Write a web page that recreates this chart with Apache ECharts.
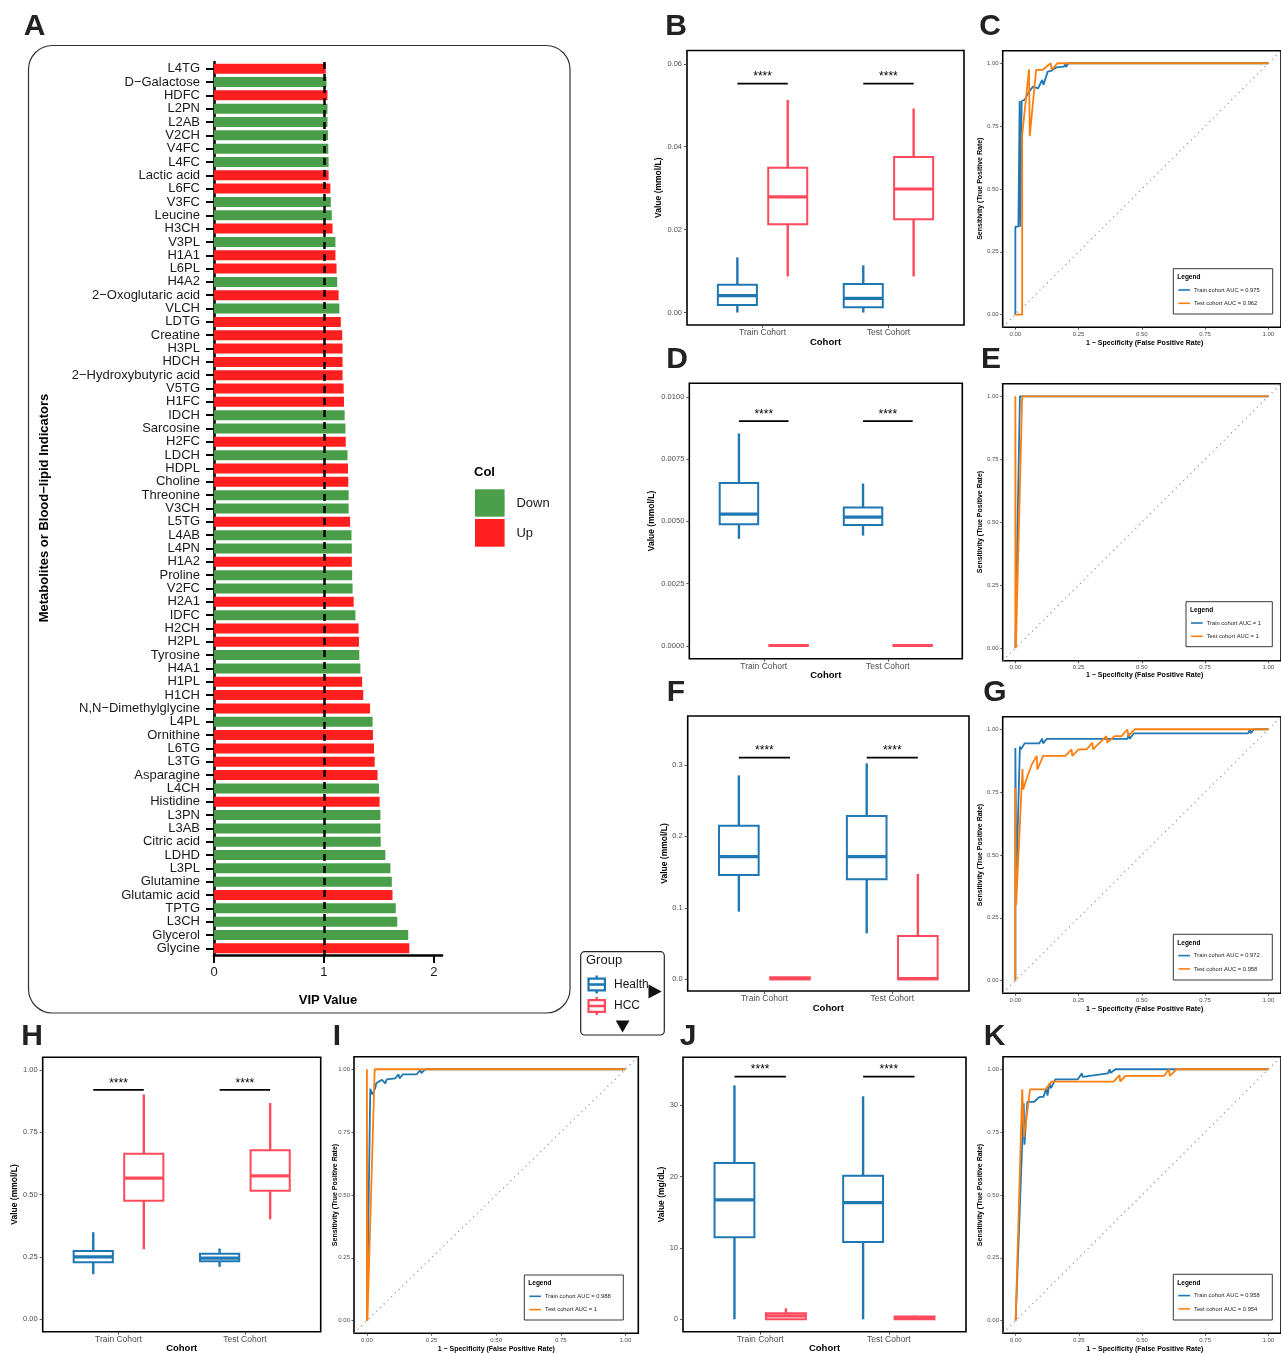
<!DOCTYPE html>
<html><head><meta charset="utf-8">
<script src="https://cdn.jsdelivr.net/npm/echarts@6/dist/echarts.min.js"></script>
<style>html,body{margin:0;padding:0;background:#fff}#c{width:1281px;height:1353px}</style>
</head><body><div id="c"></div>
<script>
// ---------------- DATA ----------------
const vipNames = ['L4TG','D−Galactose','HDFC','L2PN','L2AB','V2CH','V4FC','L4FC','Lactic acid','L6FC','V3FC','Leucine','H3CH','V3PL','H1A1','L6PL','H4A2','2−Oxoglutaric acid','VLCH','LDTG','Creatine','H3PL','HDCH','2−Hydroxybutyric acid','V5TG','H1FC','IDCH','Sarcosine','H2FC','LDCH','HDPL','Choline','Threonine','V3CH','L5TG','L4AB','L4PN','H1A2','Proline','V2FC','H2A1','IDFC','H2CH','H2PL','Tyrosine','H4A1','H1PL','H1CH','N,N−Dimethylglycine','L4PL','Ornithine','L6TG','L3TG','Asparagine','L4CH','Histidine','L3PN','L3AB','Citric acid','LDHD','L3PL','Glutamine','Glutamic acid','TPTG','L3CH','Glycerol','Glycine'];
const vipValues = [1.016,1.023,1.032,1.032,1.032,1.036,1.039,1.042,1.042,1.058,1.062,1.071,1.078,1.104,1.104,1.114,1.12,1.133,1.14,1.153,1.166,1.169,1.169,1.169,1.179,1.182,1.188,1.195,1.198,1.214,1.218,1.221,1.224,1.224,1.237,1.25,1.253,1.253,1.256,1.26,1.27,1.286,1.315,1.318,1.321,1.331,1.347,1.357,1.419,1.442,1.445,1.455,1.461,1.487,1.5,1.506,1.513,1.513,1.516,1.558,1.604,1.617,1.623,1.653,1.666,1.766,1.776];
const vipDirection = ['Up','Down','Up','Down','Down','Down','Down','Down','Up','Up','Down','Down','Up','Down','Up','Up','Down','Up','Down','Up','Up','Up','Up','Up','Up','Up','Down','Down','Up','Down','Up','Up','Down','Down','Up','Down','Down','Up','Down','Down','Up','Down','Up','Up','Down','Down','Up','Up','Up','Down','Up','Up','Up','Up','Down','Up','Down','Down','Down','Down','Down','Down','Up','Down','Down','Down','Up'];
const vipTicks = [0,1,2];
const vipThreshold = 1;

const cohorts = ['Train Cohort','Test Cohort'];
const groups = ['Health','HCC'];

// boxplot stats per cohort: [lower whisker, Q1, median, Q3, upper whisker]
const boxB_health = [[0,0.0018,0.0041,0.0067,0.0133],[0,0.0013,0.0034,0.0069,0.0114]];
const boxB_hcc    = [[0.0087,0.0213,0.0279,0.0349,0.0513],[0.0087,0.0225,0.0298,0.0375,0.0492]];
const sigB = 0.0552;
const ticksB = [0,0.02,0.04,0.06];

const boxD_health = [[0.0043,0.00488,0.00529,0.00654,0.00853],[0.00443,0.00485,0.00517,0.00556,0.00652]];
const boxD_hcc    = [[0,0,0.00002,0.00004,0.00004],[0,0,0.00002,0.00004,0.00004]];
const sigD = 0.00902;
const ticksD = [0,0.0025,0.005,0.0075,0.01];

const boxF_health = [[0.0947,0.146,0.1717,0.215,0.2855],[0.0644,0.14,0.1717,0.2286,0.3023]];
const boxF_hcc    = [[0,0,0.001,0.003,0.003],[0,0,0.001,0.0607,0.1474]];
const sigF = 0.3103;
const ticksF = [0,0.1,0.2,0.3];

const boxH_health = [[0.1805,0.228,0.25,0.274,0.349],[0.21,0.232,0.245,0.262,0.2834]];
const boxH_hcc    = [[0.2807,0.4746,0.5655,0.663,0.901],[0.401,0.5147,0.5749,0.6778,0.8663]];
const sigH = 0.9198;
const ticksH = [0,0.25,0.5,0.75,1];

const boxJ_health = [[0,11.5,16.73,21.92,32.8],[0,10.84,16.36,20.14,31.26]];
const boxJ_hcc    = [[0,0,0.47,0.84,1.54],[0,0,0.2,0.4,0.56]];
const sigJ = 34.02;
const ticksJ = [0,10,20,30];

const rocTicks = [0,0.25,0.5,0.75,1];
const rocC_train = [[0,0],[0,0.35],[0.012,0.35],[0.017,0.85],[0.02,0.35],[0.025,0.85],[0.037,0.855],[0.054,0.887],[0.07,0.907],[0.09,0.9],[0.106,0.934],[0.111,0.914],[0.128,0.967],[0.144,0.971],[0.162,0.984],[0.192,0.987],[0.198,0.997],[0.2,0.985],[0.21,1],[1,1]];
const rocC_test  = [[0,0],[0.027,0],[0.027,0.715],[0.054,0.976],[0.057,0.71],[0.082,0.974],[0.108,0.974],[0.124,0.987],[0.14,1],[0.144,0.974],[0.166,1],[1,1]];
const rocE_train = [[0,0],[0.018,1],[1,1]];
const rocE_test  = [[0,0],[0,1],[0.002,0],[0.027,1],[1,1]];
const rocG_train = [[0,0],[0,0.925],[0.004,0.4],[0.018,0.931],[0.022,0.92],[0.037,0.944],[0.095,0.944],[0.106,0.962],[0.11,0.944],[0.124,0.962],[0.443,0.962],[0.448,0.984],[0.452,0.962],[0.469,0.984],[0.92,0.984],[0.927,1],[0.931,0.984],[0.943,1],[1,1]];
const rocG_test  = [[0,0],[0,0.766],[0.003,0.3],[0.028,0.842],[0.031,0.76],[0.05,0.82],[0.065,0.86],[0.085,0.894],[0.087,0.84],[0.11,0.894],[0.198,0.894],[0.222,0.92],[0.225,0.894],[0.25,0.92],[0.282,0.92],[0.304,0.947],[0.307,0.92],[0.36,0.973],[0.363,0.947],[0.392,0.973],[0.42,0.973],[0.443,1],[0.446,0.973],[0.472,1],[1,1]];
const rocI_train = [[0,0],[0.013,0.922],[0.02,0.9],[0.032,0.924],[0.036,0.944],[0.058,0.958],[0.071,0.944],[0.077,0.96],[0.11,0.964],[0.122,0.98],[0.126,0.964],[0.139,0.98],[0.193,0.98],[0.206,0.997],[0.211,0.985],[0.225,1],[1,1]];
const rocI_test  = [[0,0],[0,1],[0.002,0],[0.03,1],[1,1]];
const rocK_train = [[0,0],[0.032,0.865],[0.035,0.7],[0.046,0.87],[0.072,0.87],[0.095,0.89],[0.11,0.89],[0.122,0.925],[0.126,0.895],[0.134,0.944],[0.14,0.925],[0.157,0.96],[0.246,0.96],[0.262,0.984],[0.265,0.97],[0.365,0.984],[0.372,1],[0.375,0.985],[0.395,1],[1,1]];
const rocK_test  = [[0,0],[0.026,0.92],[0.033,0.73],[0.057,0.92],[0.118,0.92],[0.142,0.951],[0.388,0.951],[0.411,0.977],[0.414,0.951],[0.434,0.974],[0.588,0.974],[0.606,1],[0.61,0.974],[0.637,1],[1,1]];
const aucTrain = [0.975, 1, 0.972, 0.988, 0.958]; // C, E, G, I, K
const aucTest  = [0.962, 1, 0.958, 1, 0.954];

// ---------------- STYLE ----------------
const FONT = '"Liberation Sans", Arial, Helvetica, sans-serif';
const RED_UP = '#FF1F1F', GREEN_DOWN = '#4A9E4A';
const C_HEALTH = '#1F77B4', C_HCC = '#FF4A5D';
const C_TRAIN = '#1F77B4', C_TEST = '#FF7F0E';
const GRAY = '#4D4D4D';
const DODGE = 0.2, BOX_W = 0.31;

const grids = [
  {left:214, top:62, width:228, height:893},
  {left:687, top:50.5, width:277, height:274.5},
  {left:1002.7, top:50.7, width:284.6, height:276.5},
  {left:689.3, top:383.3, width:273, height:275.4},
  {left:1002.7, top:383.7, width:284.6, height:277},
  {left:687.7, top:716, width:281.3, height:275},
  {left:1002.7, top:716.7, width:284.6, height:276.5},
  {left:42.7, top:1057.3, width:278, height:274.4},
  {left:354, top:1056.7, width:284.3, height:276.5},
  {left:683, top:1057.3, width:283, height:274.4},
  {left:1003, top:1056.7, width:284.6, height:276.5}
].map((g,i)=>Object.assign(g, i===0 ? {} : {show:true, borderColor:'#000', borderWidth:1.6, backgroundColor:'#fff'}));

const xAxes = [], yAxes = [], series = [];

// ---- Panel A ----
xAxes.push({type:'value', gridIndex:0, min:0, max:2.073, interval:1,
  axisLine:{show:true, onZero:false, lineStyle:{color:'#000', width:2.6}},
  axisTick:{show:true, length:8, lineStyle:{color:'#000', width:2}},
  axisLabel:{fontSize:13, color:'#1a1a1a', margin:11, fontFamily:FONT},
  splitLine:{show:false}});
yAxes.push({type:'category', gridIndex:0, data:vipNames, inverse:true,
  axisLine:{show:true, onZero:false, lineStyle:{color:'#000', width:2.6}},
  axisTick:{show:true, alignWithLabel:true, length:8, lineStyle:{color:'#000', width:2}},
  axisLabel:{fontSize:13, color:'#1a1a1a', margin:14, interval:0, fontFamily:FONT},
  splitLine:{show:false}});
series.push({type:'bar', xAxisIndex:0, yAxisIndex:0, barWidth:10,
  data: vipValues.map((v,i)=>({value:v, itemStyle:{color: vipDirection[i]==='Up' ? RED_UP : GREEN_DOWN}})),
  markLine:{silent:true, symbol:'none', label:{show:false}, animation:false,
    lineStyle:{color:'#000', width:2.5, type:[7,5]}, data:[{xAxis:vipThreshold}]}});

// ---- helpers ----
function boxAxes(gi, ymin, ymax, ticks, dec) {
  xAxes.push({type:'value', gridIndex:gi, min:0.4, max:2.6, position:'bottom',
    axisLine:{show:false, onZero:false},
    axisTick:{show:true, customValues:[1,2], length:3, lineStyle:{color:'#333', width:0.8}},
    axisLabel:{customValues:[1,2], formatter:v=>cohorts[Math.round(v)-1], fontSize:8.5, color:GRAY, margin:3, fontFamily:FONT},
    splitLine:{show:false}});
  yAxes.push({type:'value', gridIndex:gi, min:ymin, max:ymax, position:'left',
    axisLine:{show:false, onZero:false},
    axisTick:{show:true, customValues:ticks, length:3, lineStyle:{color:'#333', width:0.8}},
    axisLabel:{customValues:ticks, formatter:v=>v.toFixed(dec), fontSize:7.5, color:GRAY, margin:5, fontFamily:FONT},
    splitLine:{show:false}});
}
function boxSeries(gi, stats, offset, color, name) {
  series.push({type:'custom', name, xAxisIndex:gi, yAxisIndex:gi,
    data: stats.map((s,i)=>[i+1+offset].concat(s)),
    encode:{x:0, y:[1,2,3,4,5]},
    renderItem:(params, api)=>{
      const x = api.value(0);
      const lo = api.coord([x, api.value(1)]), q1 = api.coord([x, api.value(2)]),
            md = api.coord([x, api.value(3)]), q3 = api.coord([x, api.value(4)]), hi = api.coord([x, api.value(5)]);
      const hw = api.size([BOX_W, 0])[0]/2, cx = lo[0];
      return {type:'group', children:[
        {type:'line', shape:{x1:cx, y1:hi[1], x2:cx, y2:q3[1]}, style:{stroke:color, lineWidth:2.4}},
        {type:'line', shape:{x1:cx, y1:q1[1], x2:cx, y2:lo[1]}, style:{stroke:color, lineWidth:2.4}},
        {type:'rect', shape:{x:cx-hw, y:q3[1], width:2*hw, height:q1[1]-q3[1]}, style:{fill:'#fff', stroke:color, lineWidth:2}},
        {type:'line', shape:{x1:cx-hw, y1:md[1], x2:cx+hw, y2:md[1]}, style:{stroke:color, lineWidth:3.2}}
      ]};
    }});
}
function sigSeries(gi, y) {
  series.push({type:'custom', xAxisIndex:gi, yAxisIndex:gi,
    data:[[1-DODGE, 1+DODGE, y],[2-DODGE, 2+DODGE, y]], encode:{x:[0,1], y:2},
    renderItem:(params, api)=>{
      const a = api.coord([api.value(0), api.value(2)]), b = api.coord([api.value(1), api.value(2)]);
      return {type:'group', children:[
        {type:'line', shape:{x1:a[0], y1:a[1], x2:b[0], y2:b[1]}, style:{stroke:'#000', lineWidth:1.8}},
        {type:'text', x:(a[0]+b[0])/2, y:a[1]-0.5, style:{text:'****', fontSize:12, fontFamily:FONT, fill:'#000', align:'center', verticalAlign:'bottom', textAlign:'center', textVerticalAlign:'bottom'}}
      ]};
    }});
}
function boxPanel(gi, health, hcc, sig, ymin, ymax, ticks, dec) {
  boxAxes(gi, ymin, ymax, ticks, dec);
  boxSeries(gi, health, -DODGE, C_HEALTH, groups[0]);
  boxSeries(gi, hcc, DODGE, C_HCC, groups[1]);
  sigSeries(gi, sig);
}
function rocPanel(gi, train, test) {
  const mk = (pos) => ({type:'value', gridIndex:gi, min:-0.05, max:1.05, position:pos,
    axisLine:{show:false, onZero:false},
    axisTick:{show:true, customValues:rocTicks, length:2.5, lineStyle:{color:'#333', width:0.8}},
    axisLabel:{customValues:rocTicks, formatter:v=>v.toFixed(2), fontSize:6, color:GRAY, margin:4, fontFamily:FONT},
    splitLine:{show:false}});
  xAxes.push(mk('bottom'));
  yAxes.push(mk('left'));
  series.push({type:'line', xAxisIndex:gi, yAxisIndex:gi, data:[[-0.05,-0.05],[1.05,1.05]], symbol:'none', silent:true,
    lineStyle:{color:'#8c8c8c', width:1.3, type:[1,4.2], cap:'butt'}});
  series.push({type:'line', xAxisIndex:gi, yAxisIndex:gi, data:train, symbol:'none', lineStyle:{color:C_TRAIN, width:1.8}, itemStyle:{color:C_TRAIN}});
  series.push({type:'line', xAxisIndex:gi, yAxisIndex:gi, data:test, symbol:'none', lineStyle:{color:C_TEST, width:1.8}, itemStyle:{color:C_TEST}});
}

boxPanel(1, boxB_health, boxB_hcc, sigB, -0.003, 0.0632, ticksB, 2);
rocPanel(2, rocC_train, rocC_test);
boxPanel(3, boxD_health, boxD_hcc, sigD, -0.00051, 0.01054, ticksD, 4);
rocPanel(4, rocE_train, rocE_test);
boxPanel(5, boxF_health, boxF_hcc, sigF, -0.0164, 0.3686, ticksF, 1);
rocPanel(6, rocG_train, rocG_test);
boxPanel(7, boxH_health, boxH_hcc, sigH, -0.05, 1.05, ticksH, 2);
rocPanel(8, rocI_train, rocI_test);
boxPanel(9, boxJ_health, boxJ_hcc, sigJ, -1.74, 36.73, ticksJ, 0);
rocPanel(10, rocK_train, rocK_test);

// ---------------- GRAPHIC (text & decorations) ----------------
const graphic = [];
function txt(x, y, text, size, opts) {
  opts = opts || {};
  graphic.push({type:'text', x, y, rotation: opts.rot || 0, z: 100,
    style:{text, fontSize:size, fontWeight: opts.bold ? 'bold' : 'normal', fontFamily:FONT, fill: opts.color || '#000',
      align: opts.align || 'center', verticalAlign:'middle', textAlign: opts.align || 'center', textVerticalAlign:'middle'}});
}
// panel A frame
graphic.push({type:'rect', shape:{x:28.5, y:45.5, width:541.5, height:967.5, r:24}, style:{fill:'none', stroke:'#333', lineWidth:1.2}, z:0});
// panel letters
[['A',34.5,27],['B',676,27],['C',990,27],['D',677,360],['E',991,360],['F',676,693],['G',995,693],['H',32,1037],['I',337,1037],['J',688,1037],['K',994.5,1037]]
  .forEach(p=>txt(p[1], p[2], p[0], 30, {bold:true, color:'#222'}));
// A titles + legend
txt(44, 508, 'Metabolites or Blood−lipid Indicators', 13, {bold:true, rot:Math.PI/2});
txt(328, 1000, 'VIP Value', 13, {bold:true});
txt(474, 472.5, 'Col', 13, {bold:true, align:'left'});
graphic.push({type:'rect', shape:{x:475, y:489.3, width:29.6, height:27.4}, style:{fill:GREEN_DOWN}, z:100});
graphic.push({type:'rect', shape:{x:475, y:519, width:29.6, height:27.7}, style:{fill:RED_UP}, z:100});
txt(516.4, 503.3, 'Down', 13, {align:'left', color:'#1a1a1a'});
txt(516.4, 533.3, 'Up', 13, {align:'left', color:'#1a1a1a'});

// box panel titles
[[659,187.7,825.5,332,342],[651.5,521,825.8,665,675],[664.5,853.5,828.3,998.3,1008.3],[15,1194.5,181.7,1338,1348.3],[661.5,1194.5,824.5,1338,1348.3]]
  .forEach(t=>{ txt(t[0], t[1], 'Value (' + (t[0]===661.5 ? 'mg/dL' : 'mmol/L') + ')', 8.5, {bold:true, rot:Math.PI/2});
               txt(t[2], t[4], 'Cohort', 9.5, {bold:true}); });
// ROC titles
[[980,188.7,1144.6,342.7],[980,522,1144.6,675],[980,855,1144.6,1009.3],[335,1195,496.3,1349],[980.5,1195,1144.8,1349]]
  .forEach(t=>{ txt(t[0], t[1], 'Sensitivity (True Positive Rate)', 7, {bold:true, rot:Math.PI/2});
               txt(t[2], t[3], '1 − Specificity (False Positive Rate)', 7, {bold:true}); });
// ROC legends
function rocLegend(x0, y0, w, h, k) {
  graphic.push({type:'rect', shape:{x:x0, y:y0, width:w, height:h}, style:{fill:'#fff', stroke:'#222', lineWidth:0.9}, z:100});
  txt(x0+4, y0+8.5, 'Legend', 6.5, {bold:true, align:'left'});
  graphic.push({type:'line', shape:{x1:x0+5, y1:y0+21.3, x2:x0+16.7, y2:y0+21.3}, style:{stroke:C_TRAIN, lineWidth:1.6}, z:101});
  graphic.push({type:'line', shape:{x1:x0+5, y1:y0+34.6, x2:x0+16.7, y2:y0+34.6}, style:{stroke:C_TEST, lineWidth:1.6}, z:101});
  txt(x0+20.7, y0+21.3, 'Train cohort AUC = ' + aucTrain[k], 5.8, {align:'left', color:'#222'});
  txt(x0+20.7, y0+34.6, 'Test cohort AUC = ' + aucTest[k], 5.8, {align:'left', color:'#222'});
}
rocLegend(1173.3, 268.7, 99.4, 45.3, 0);
rocLegend(1186, 601.7, 86.3, 45, 1);
rocLegend(1173.3, 934.3, 99, 45.7, 2);
rocLegend(524.3, 1275, 99, 45, 3);
rocLegend(1173.3, 1274.3, 99, 45.7, 4);

// Group legend
graphic.push({type:'rect', shape:{x:580.7, y:951.7, width:83.6, height:83.3, r:4}, style:{fill:'#fff', stroke:'#222', lineWidth:1.2}, z:100});
txt(586, 960.5, 'Group', 13, {align:'left', color:'#1a1a1a'});
function groupKey(yc, color) {
  graphic.push({type:'line', shape:{x1:596.7, y1:yc-9, x2:596.7, y2:yc+9}, style:{stroke:color, lineWidth:2.4}, z:101});
  graphic.push({type:'rect', shape:{x:588.5, y:yc-5.8, width:16.4, height:11.6}, style:{fill:'#fff', stroke:color, lineWidth:2.2}, z:102});
  graphic.push({type:'line', shape:{x1:588.5, y1:yc, x2:604.9, y2:yc}, style:{stroke:color, lineWidth:2.6}, z:103});
}
groupKey(984.5, C_HEALTH);
groupKey(1006, C_HCC);
txt(614, 984.5, groups[0], 12, {align:'left', color:'#1a1a1a'});
txt(614, 1006, groups[1], 12, {align:'left', color:'#1a1a1a'});
graphic.push({type:'polygon', shape:{points:[[648.5,984.5],[661.7,991.5],[648.5,998.5]]}, style:{fill:'#111'}, z:103});
graphic.push({type:'polygon', shape:{points:[[615.7,1020.5],[629.5,1020.5],[622.6,1032.5]]}, style:{fill:'#111'}, z:103});

const chart = echarts.init(document.getElementById('c'), null, {renderer:'canvas'});
chart.setOption({
  animation:false,
  backgroundColor:'#fff',
  textStyle:{fontFamily:FONT},
  grid:grids, xAxis:xAxes, yAxis:yAxes, series, graphic
});
</script></body></html>
